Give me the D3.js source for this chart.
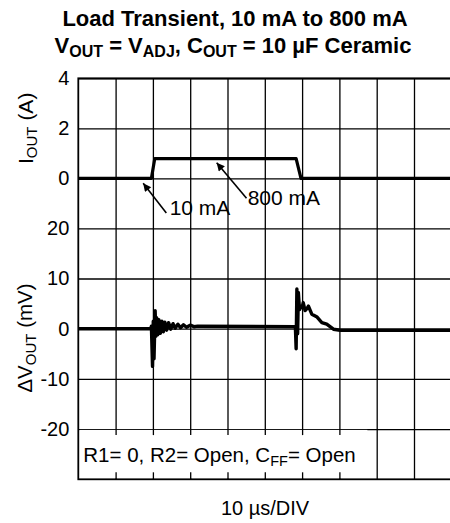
<!DOCTYPE html>
<html>
<head>
<meta charset="utf-8">
<script src="https://cdn.jsdelivr.net/npm/d3@7"></script>
<style>
  html, body { margin: 0; padding: 0; background: #fff; }
  svg { display: block; font-family: "Liberation Sans", Arial, Helvetica, sans-serif; }
</style>
</head>
<body>
<svg id="chart" width="450" height="523"></svg>
<script>
// ---- data ----
const timeTicks = [0, 10, 20, 30, 40, 50, 60, 70, 80, 90, 100];   // µs, 10 µs/DIV
const currentTicks = [4, 2, 0];                                     // A
const voltTicks = [20, 10, 0, -10, -20];                            // mV

// Load current trace (A)
const iTime = [0, 19.6, 20.5, 58.4, 59.7, 100];
const iAmps = [0, 0, 0.79, 0.79, 0, 0];

// Output voltage deviation trace (mV)
const vTime = [0, 19.4, 19.6, 19.9, 20.1, 20.3, 20.6, 20.8, 21.0, 21.3, 21.6, 22.0, 22.4, 22.8, 23.2, 23.7, 24.2, 24.8, 25.4, 26.0, 26.7, 27.4, 28.2, 29.0, 30.0, 31.0, 32.0,
               58.2, 58.4, 58.6, 58.8, 59.0, 59.3, 59.6, 60.0, 60.3, 60.8, 61.3, 61.7, 62.6, 63.9, 65.3, 66.6, 68.4, 70.2, 100];
const vMilli = [0, 0, 0.5, -7.5, 1.5, -6, 3.6, -1.5, 2.2, -1.2, 1.8, -0.9, 1.5, -0.6, 1.3, -0.3, 1.2, -0.1, 1.0, 0.1, 0.9, 0.2, 0.8, 0.3, 0.7, 0.4, 0.5,
                0.4, -4, 7.9, -1, 7.2, 3.8, 4.5, 4.2, 5.2, 3.6, 4.0, 4.5, 2.9, 2.4, 1.2, 0.9, -0.1, -0.3, -0.3];

// annotations (data units of the current panel)
const notes = [
  { label: "10 mA",  tipT: 17.4, tipI: -0.2, tailT: 23.6, tailI: -1.39, textT: 24.5, textI: -1.47 },
  { label: "800 mA", tipT: 37.1, tipI: 0.62, tailT: 45.1, tailI: -0.8,  textT: 45.4, textI: -1.07 }
];
const conditionText = ["R1= 0, R2= Open, C", "FF", "= Open"];

// ---- layout ----
const L = 78.3, R = 451.3, T = 78.3, B = 479.3, MID = 228.3;
const svg = d3.select("#chart");
const FONT = "'Liberation Sans', Arial, Helvetica, sans-serif";

const x = d3.scaleLinear().domain([0, 100]).range([L, R]);
const yI = d3.scaleLinear().domain([-2, 4]).range([MID, T]);
const yV = d3.scaleLinear().domain([-30, 20]).range([B, MID]);

// vertical grid
const gx = svg.append("g").attr("transform", `translate(0,${B})`)
  .call(d3.axisBottom(x).tickValues(timeTicks.slice(1, -1)).tickSize(-(B - T)).tickFormat(""));
gx.select(".domain").remove();
gx.selectAll("line").attr("stroke", "#000").attr("stroke-width", 1.3);

// horizontal grid + labels
const fmt = d => d3.format("d")(d).replace("−", "-");
const gI = svg.append("g").attr("transform", `translate(${L},0)`)
  .call(d3.axisLeft(yI).tickValues(currentTicks).tickSize(-(R - L)).tickPadding(9).tickFormat(fmt));
const gV = svg.append("g").attr("transform", `translate(${L},0)`)
  .call(d3.axisLeft(yV).tickValues(voltTicks).tickSize(-(R - L)).tickPadding(9).tickFormat(fmt));
[gI, gV].forEach(g => {
  g.select(".domain").remove();
  g.selectAll("line").attr("stroke", "#000").attr("stroke-width", 1.3);
  g.selectAll("text").attr("fill", "#000").style("font-size", "20px").style("font-family", FONT);
});

// condition label box (covers grid in lowest row)
svg.append("rect")
  .attr("x", L + 1).attr("y", yV(-20) + 0.8)
  .attr("width", x(77.5) - L - 1).attr("height", B - yV(-20) - 1.6)
  .attr("fill", "#fff");
const stubVals = timeTicks.slice(1, 8);
const st = svg.append("g").attr("transform", `translate(0,${yV(-20)})`)
  .call(d3.axisBottom(x).tickValues(stubVals).tickSize(6).tickFormat(""));
const sb = svg.append("g").attr("transform", `translate(0,${B})`)
  .call(d3.axisTop(x).tickValues(stubVals).tickSize(7).tickFormat(""));
[st, sb].forEach(g => { g.select(".domain").remove(); g.selectAll("line").attr("stroke", "#000").attr("stroke-width", 1.3); });

const ct = svg.append("text").attr("x", L + 5).attr("y", 461.5)
  .style("font-size", "20.5px").attr("fill", "#000");
ct.append("tspan").text(conditionText[0]);
ct.append("tspan").text(conditionText[1]).attr("dy", 4).style("font-size", "14.5px");
ct.append("tspan").text(conditionText[2]).attr("dy", -4);

// plot border
svg.append("rect").attr("x", L).attr("y", T).attr("width", R - L).attr("height", B - T)
  .attr("fill", "none").attr("stroke", "#000").attr("stroke-width", 1.8);

// traces
const iData = iTime.map((t, k) => [t, iAmps[k]]);
const vData = vTime.map((t, k) => [t, vMilli[k]]);
svg.append("path").datum(iData)
  .attr("d", d3.line().x(d => x(d[0])).y(d => yI(d[1])))
  .attr("fill", "none").attr("stroke", "#000").attr("stroke-width", 3.2).attr("stroke-linejoin", "round");
svg.append("path").datum(vData)
  .attr("d", d3.line().x(d => x(d[0])).y(d => yV(d[1])))
  .attr("fill", "none").attr("stroke", "#000").attr("stroke-width", 3.4).attr("stroke-linejoin", "round");

// arrows
svg.append("defs").append("marker")
  .attr("id", "ah").attr("viewBox", "0 0 10 10").attr("refX", 10).attr("refY", 5)
  .attr("markerUnits", "userSpaceOnUse").attr("markerWidth", 10).attr("markerHeight", 8)
  .attr("orient", "auto")
  .append("path").attr("d", "M0,0 L10,5 L0,10 Z").attr("fill", "#000");
notes.forEach(n => {
  svg.append("line")
    .attr("x1", x(n.tailT)).attr("y1", yI(n.tailI))
    .attr("x2", x(n.tipT)).attr("y2", yI(n.tipI))
    .attr("stroke", "#000").attr("stroke-width", 1.6).attr("marker-end", "url(#ah)");
  svg.append("text").attr("x", x(n.textT)).attr("y", yI(n.textI))
    .style("font-size", "21px").attr("fill", "#000").text(n.label);
});

// axis titles
const yl1 = svg.append("text").attr("transform", `translate(33,${yI(2)}) rotate(-90)`)
  .attr("text-anchor", "middle").style("font-size", "21px").attr("fill", "#000");
yl1.append("tspan").text("I");
yl1.append("tspan").text("OUT").attr("dy", 4).style("font-size", "15px");
yl1.append("tspan").text(" (A)").attr("dy", -4);

const yl2 = svg.append("text").attr("transform", `translate(32,338) rotate(-90)`)
  .attr("text-anchor", "middle").style("font-size", "20.5px").attr("fill", "#000");
yl2.append("tspan").text("ΔV");
yl2.append("tspan").text("OUT").attr("dy", 4).style("font-size", "15px");
yl2.append("tspan").text(" (mV)").attr("dy", -4);

svg.append("text").attr("x", 265).attr("y", 515).attr("text-anchor", "middle")
  .style("font-size", "20px").attr("fill", "#000").text("10 µs/DIV");

// title
svg.append("text").attr("x", 235).attr("y", 26).attr("text-anchor", "middle")
  .style("font-size", "22px").style("font-weight", "bold").attr("fill", "#000")
  .text("Load Transient, 10 mA to 800 mA");
const t2 = svg.append("text").attr("x", 233).attr("y", 53).attr("text-anchor", "middle")
  .style("font-size", "22px").style("font-weight", "bold").attr("fill", "#000");
t2.append("tspan").text("V");
t2.append("tspan").text("OUT").attr("dy", 4).style("font-size", "16px");
t2.append("tspan").text(" = V").attr("dy", -4);
t2.append("tspan").text("ADJ").attr("dy", 4).style("font-size", "16px");
t2.append("tspan").text(", C").attr("dy", -4);
t2.append("tspan").text("OUT").attr("dy", 4).style("font-size", "16px");
t2.append("tspan").text(" = 10 µF Ceramic").attr("dy", -4);
</script>
</body>
</html>
